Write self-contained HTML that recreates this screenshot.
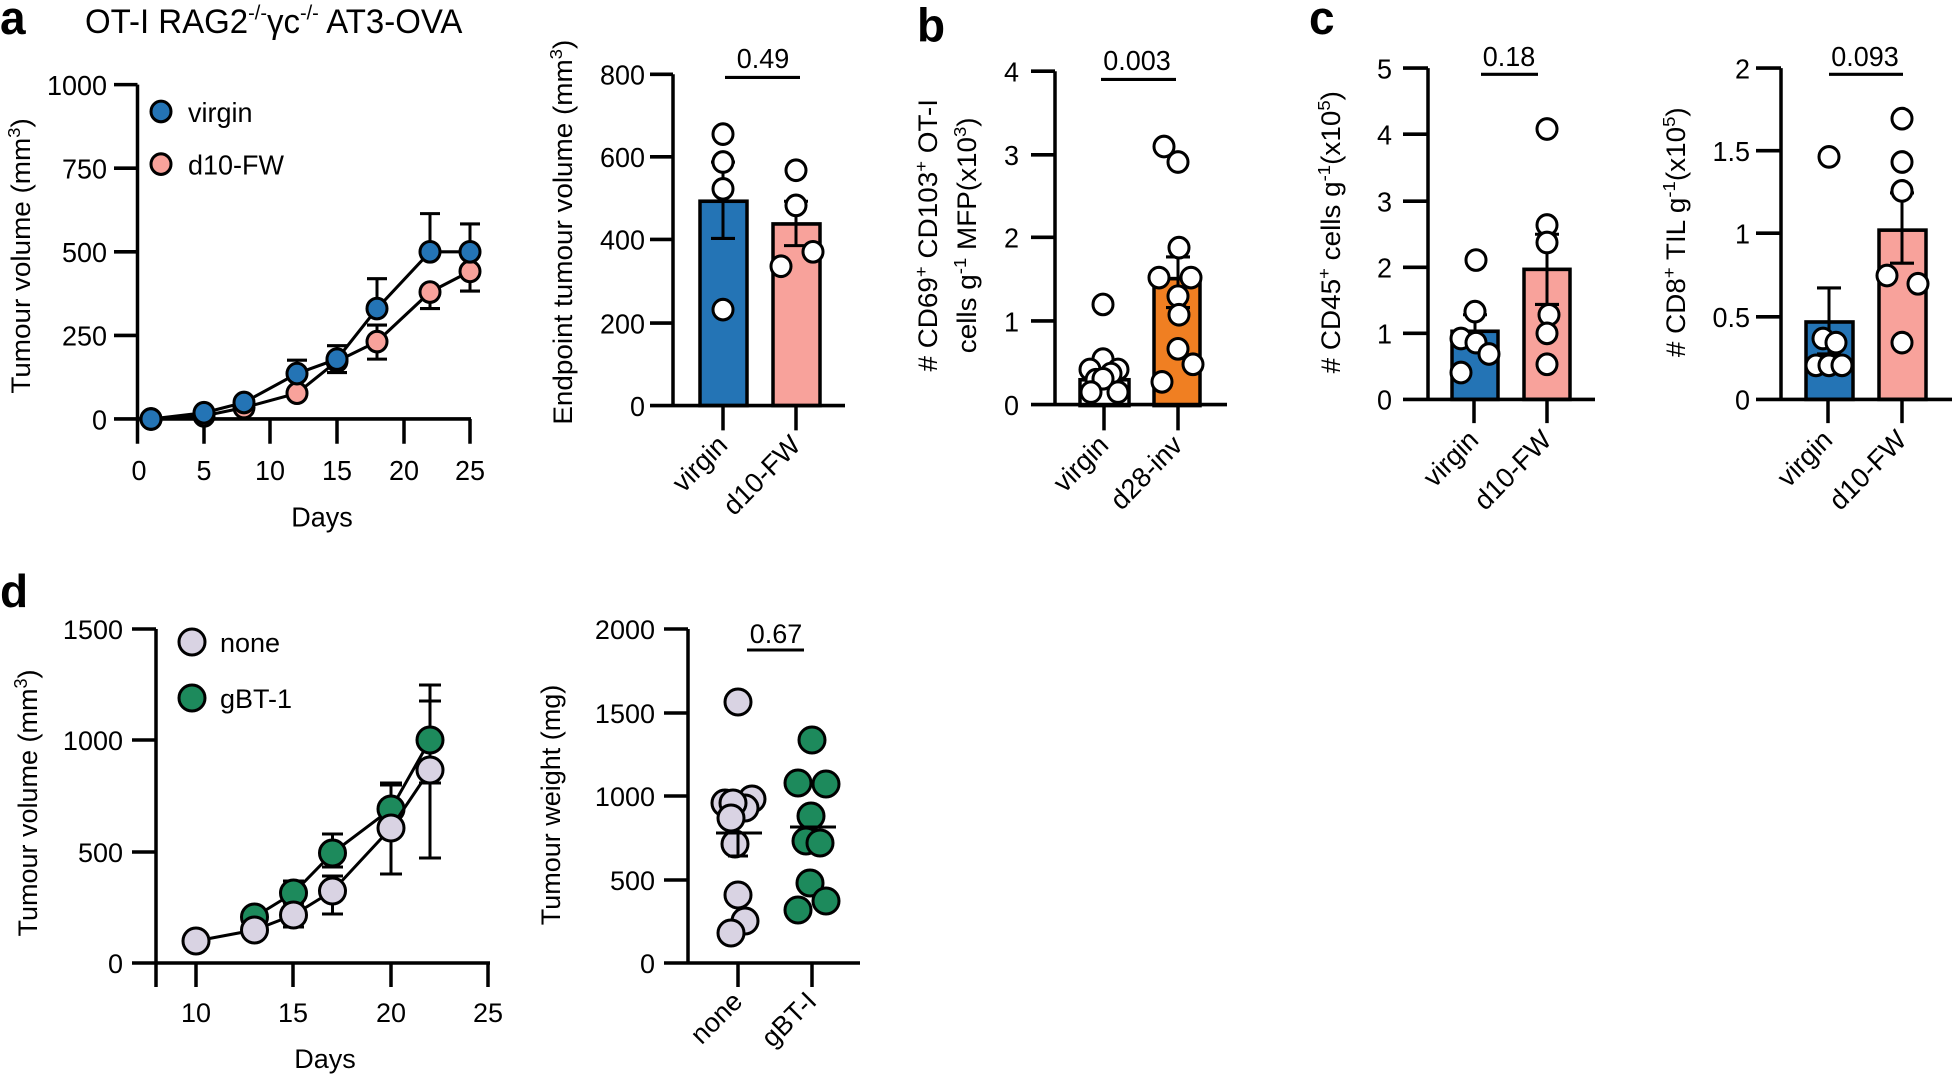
<!DOCTYPE html>
<html><head><meta charset="utf-8"><style>
html,body{margin:0;padding:0;background:#fff;}
svg{display:block;font-family:"Liberation Sans",Arial,sans-serif;}
text{fill:#000;}
.t{font-size:27px;}
.ax{stroke:#000;stroke-width:3.5;fill:none;}
.e{stroke:#000;stroke-width:3;fill:none;}
</style></head><body>
<svg width="1952" height="1075" viewBox="0 0 1952 1075" xmlns="http://www.w3.org/2000/svg">
<g transform="scale(1,1.032)">
<!-- Panel a1 -->
<text x="0" y="33" font-size="46" font-weight="bold">a</text>
<text x="85" y="32" font-size="33">OT-I RAG2<tspan font-size="20" dy="-13">-/-</tspan><tspan dy="13">γc</tspan><tspan font-size="20" dy="-13">-/-</tspan><tspan dy="13"> AT3-OVA</tspan></text>
<path class="ax" d="M137.5,82 V430 M114,82 H137.5 M114,163 H137.5 M114,244 H137.5 M114,325 H137.5 M114,406 H471 M204,406 V430 M270,406 V430 M337,406 V430 M404,406 V430 M470,406 V430"/>
<g class="t" text-anchor="end"><text x="107" y="92">1000</text><text x="107" y="173">750</text><text x="107" y="254">500</text><text x="107" y="335">250</text><text x="107" y="416">0</text></g>
<g class="t" text-anchor="middle"><text x="139" y="465">0</text><text x="204" y="465">5</text><text x="270" y="465">10</text><text x="337" y="465">15</text><text x="404" y="465">20</text><text x="470" y="465">25</text>
<text x="322" y="510">Days</text></g>
<text class="t" transform="translate(30,248) rotate(-90)" text-anchor="middle">Tumour volume (mm<tspan font-size="18" dy="-10">3</tspan><tspan dy="10">)</tspan></text>
<circle cx="161" cy="108" r="10" fill="#2474b5" stroke="#000" stroke-width="3"/><text class="t" x="188" y="118">virgin</text>
<circle cx="161" cy="159" r="10" fill="#f8a29b" stroke="#000" stroke-width="3"/><text class="t" x="188" y="169">d10-FW</text>
<path class="e" d="M297,362 V349 M287,349 H307 M337,348 V335 M327,335 H347 M377,299 V270 M367,270 H387 M430,244 V207 M420,207 H440 M470,244 V217 M460,217 H480
M337,350 V361 M327,361 H347 M377,331 V348 M367,348 H387 M377,331 V315 M367,315 H387 M430,283 V299 M420,299 H440 M470,263 V282 M460,282 H480"/>
<polyline class="e" points="151,406 204,403 244,395 297,381 337,350 377,331 430,283 470,263"/>
<g fill="#f8a29b" stroke="#000" stroke-width="3"><circle cx="151" cy="406" r="10"/><circle cx="204" cy="403" r="10"/><circle cx="244" cy="395" r="10"/><circle cx="297" cy="381" r="10"/><circle cx="337" cy="350" r="10"/><circle cx="377" cy="331" r="10"/><circle cx="430" cy="283" r="10"/><circle cx="470" cy="263" r="10"/></g>
<polyline class="e" points="151,406 204,400 244,390 297,362 337,348 377,299 430,244 470,244"/>
<g fill="#2474b5" stroke="#000" stroke-width="3"><circle cx="151" cy="406" r="10"/><circle cx="204" cy="400" r="10"/><circle cx="244" cy="390" r="10"/><circle cx="297" cy="362" r="10"/><circle cx="337" cy="348" r="10"/><circle cx="377" cy="299" r="10"/><circle cx="430" cy="244" r="10"/><circle cx="470" cy="244" r="10"/></g>

<!-- Panel a2 -->
<rect x="700" y="195" width="47" height="198" fill="#2474b5" stroke="#000" stroke-width="3.5"/>
<rect x="773" y="217" width="47" height="176" fill="#f8a29b" stroke="#000" stroke-width="3.5"/>
<path class="ax" d="M673,72 V393 M650,72 H673 M650,152 H673 M650,232 H673 M650,313 H673 M650,393 H845 M723,393 V417 M796,393 V417"/>
<g class="t" text-anchor="end"><text x="645" y="82">800</text><text x="645" y="162">600</text><text x="645" y="242">400</text><text x="645" y="323">200</text><text x="645" y="403">0</text></g>
<text class="t" transform="translate(572,225) rotate(-90)" text-anchor="middle">Endpoint tumour volume (mm<tspan font-size="18" dy="-10">3</tspan><tspan dy="10">)</tspan></text>
<path class="e" d="M723,157 V231 M711,157 H735 M711,231 H735 M796,195 V238 M784,195 H808 M784,238 H808"/>
<g fill="#fff" stroke="#000" stroke-width="3"><circle cx="723" cy="130" r="10"/><circle cx="723" cy="157" r="10"/><circle cx="723" cy="183" r="10"/><circle cx="723" cy="300" r="10"/><circle cx="796" cy="165" r="10"/><circle cx="796" cy="199" r="10"/><circle cx="781" cy="258" r="10"/><circle cx="813" cy="244" r="10"/></g>
<path class="e" d="M725,75 H800"/><text class="t" x="763" y="66" text-anchor="middle">0.49</text>
<g class="t" text-anchor="end"><text transform="translate(729,433) rotate(-45)">virgin</text><text transform="translate(802,433) rotate(-45)">d10-FW</text></g>

<!-- Panel b -->
<text x="917" y="40" font-size="46" font-weight="bold">b</text>
<rect x="1080" y="368" width="49" height="25" fill="#fff" stroke="#000" stroke-width="3.5"/>
<rect x="1154" y="270" width="46" height="123" fill="#f07f22" stroke="#000" stroke-width="3.5"/>
<path class="ax" d="M1055,69 V392 M1031,69 H1055 M1031,150 H1055 M1031,230 H1055 M1031,311 H1055 M1031,392 H1227 M1104,392 V417 M1178,392 V417"/>
<g class="t" text-anchor="end"><text x="1019" y="79">4</text><text x="1019" y="160">3</text><text x="1019" y="240">2</text><text x="1019" y="321">1</text><text x="1019" y="402">0</text></g>
<text class="t" transform="translate(937,228) rotate(-90)" text-anchor="middle"># CD69<tspan font-size="18" dy="-10">+</tspan><tspan dy="10"> CD103</tspan><tspan font-size="18" dy="-10">+</tspan><tspan dy="10"> OT-I</tspan></text>
<text class="t" transform="translate(976,228) rotate(-90)" text-anchor="middle">cells g<tspan font-size="18" dy="-10">-1</tspan><tspan dy="10"> MFP(x10</tspan><tspan font-size="18" dy="-10">3</tspan><tspan dy="10">)</tspan></text>
<path class="e" d="M1178,249 V298 M1166,249 H1190 M1166,298 H1190 M1103,362 V375 M1093,362 H1113"/>
<g fill="#fff" stroke="#000" stroke-width="3"><circle cx="1103" cy="295" r="10"/><circle cx="1103" cy="348" r="10"/><circle cx="1090" cy="358" r="10"/><circle cx="1118" cy="358" r="10"/><circle cx="1111" cy="362" r="10"/><circle cx="1096" cy="368" r="10"/><circle cx="1103" cy="367" r="10"/><circle cx="1091" cy="380" r="10"/><circle cx="1118" cy="380" r="10"/>
<circle cx="1164" cy="142" r="10"/><circle cx="1178" cy="157" r="10"/><circle cx="1179" cy="240" r="10"/><circle cx="1159" cy="269" r="10"/><circle cx="1191" cy="269" r="10"/><circle cx="1178" cy="287" r="10"/><circle cx="1179" cy="305" r="10"/><circle cx="1178" cy="338" r="10"/><circle cx="1193" cy="353" r="10"/><circle cx="1162" cy="370" r="10"/></g>
<path class="e" d="M1101,77 H1176"/><text class="t" x="1137" y="68" text-anchor="middle">0.003</text>
<g class="t" text-anchor="end"><text transform="translate(1110,433) rotate(-45)">virgin</text><text transform="translate(1184,433) rotate(-45)">d28-inv</text></g>

<!-- Panel c1 -->
<text x="1309" y="33" font-size="46" font-weight="bold">c</text>
<rect x="1452" y="321" width="46" height="66" fill="#2474b5" stroke="#000" stroke-width="3.5"/>
<rect x="1524" y="261" width="46" height="126" fill="#f8a29b" stroke="#000" stroke-width="3.5"/>
<path class="ax" d="M1428,66 V387 M1403,66 H1428 M1403,130 H1428 M1403,195 H1428 M1403,259 H1428 M1403,323 H1428 M1403,387 H1595 M1474,387 V410 M1547,387 V410"/>
<g class="t" text-anchor="end"><text x="1392" y="76">5</text><text x="1392" y="140">4</text><text x="1392" y="205">3</text><text x="1392" y="269">2</text><text x="1392" y="333">1</text><text x="1392" y="397">0</text></g>
<text class="t" transform="translate(1340,225) rotate(-90)" text-anchor="middle"># CD45<tspan font-size="18" dy="-10">+</tspan><tspan dy="10"> cells g</tspan><tspan font-size="18" dy="-10">-1</tspan><tspan dy="10">(x10</tspan><tspan font-size="18" dy="-10">5</tspan><tspan dy="10">)</tspan></text>
<path class="e" d="M1475,305 V337 M1463,305 H1487 M1547,227 V295 M1535,227 H1559 M1535,295 H1559"/>
<g fill="#fff" stroke="#000" stroke-width="3"><circle cx="1476" cy="252" r="10"/><circle cx="1475" cy="302" r="10"/><circle cx="1461" cy="328" r="10"/><circle cx="1476" cy="332" r="10"/><circle cx="1489" cy="343" r="10"/><circle cx="1461" cy="361" r="10"/>
<circle cx="1547" cy="125" r="10"/><circle cx="1547" cy="218" r="10"/><circle cx="1547" cy="235" r="10"/><circle cx="1549" cy="305" r="10"/><circle cx="1547" cy="323" r="10"/><circle cx="1547" cy="353" r="10"/></g>
<path class="e" d="M1481,72 H1538"/><text class="t" x="1509" y="64" text-anchor="middle">0.18</text>
<g class="t" text-anchor="end"><text transform="translate(1480,428) rotate(-45)">virgin</text><text transform="translate(1553,428) rotate(-45)">d10-FW</text></g>

<!-- Panel c2 -->
<rect x="1806" y="312" width="47" height="75" fill="#2474b5" stroke="#000" stroke-width="3.5"/>
<rect x="1879" y="223" width="47" height="164" fill="#f8a29b" stroke="#000" stroke-width="3.5"/>
<path class="ax" d="M1781,66 V387 M1756,66 H1781 M1756,146 H1781 M1756,226 H1781 M1756,307 H1781 M1756,387 H1952 M1828,387 V410 M1902,387 V410"/>
<g class="t" text-anchor="end"><text x="1750" y="76">2</text><text x="1750" y="156">1.5</text><text x="1750" y="236">1</text><text x="1750" y="317">0.5</text><text x="1750" y="397">0</text></g>
<text class="t" transform="translate(1685,225) rotate(-90)" text-anchor="middle"># CD8<tspan font-size="18" dy="-10">+</tspan><tspan dy="10"> TIL g</tspan><tspan font-size="18" dy="-10">-1</tspan><tspan dy="10">(x10</tspan><tspan font-size="18" dy="-10">5</tspan><tspan dy="10">)</tspan></text>
<path class="e" d="M1829,279 V343 M1817,279 H1841 M1817,343 H1841 M1902,187 V255 M1890,187 H1914 M1890,255 H1914"/>
<g fill="#fff" stroke="#000" stroke-width="3"><circle cx="1829" cy="152" r="10"/><circle cx="1823" cy="328" r="10"/><circle cx="1836" cy="332" r="10"/><circle cx="1816" cy="354" r="10"/><circle cx="1829" cy="354" r="10"/><circle cx="1842" cy="354" r="10"/>
<circle cx="1902" cy="115" r="10"/><circle cx="1902" cy="157" r="10"/><circle cx="1902" cy="185" r="10"/><circle cx="1887" cy="267" r="10"/><circle cx="1918" cy="275" r="10"/><circle cx="1902" cy="332" r="10"/></g>
<path class="e" d="M1829,72 H1903"/><text class="t" x="1865" y="64" text-anchor="middle">0.093</text>
<g class="t" text-anchor="end"><text transform="translate(1834,428) rotate(-45)">virgin</text><text transform="translate(1908,428) rotate(-45)">d10-FW</text></g>
</g>

<!-- Panel d1 -->
<text x="0" y="607" font-size="46" font-weight="bold">d</text>
<path class="ax" d="M156,629 V987 M132,629 H156 M132,740 H156 M132,852 H156 M132,963 H490 M196,963 V987 M293,963 V987 M391,963 V987 M488,963 V987"/>
<g class="t" text-anchor="end"><text x="123" y="639">1500</text><text x="123" y="750">1000</text><text x="123" y="862">500</text><text x="123" y="973">0</text></g>
<g class="t" text-anchor="middle"><text x="196" y="1022">10</text><text x="293" y="1022">15</text><text x="391" y="1022">20</text><text x="488" y="1022">25</text><text x="325" y="1068">Days</text></g>
<text class="t" transform="translate(37,803) rotate(-90)" text-anchor="middle">Tumour volume (mm<tspan font-size="18" dy="-10">3</tspan><tspan dy="10">)</tspan></text>
<circle cx="192" cy="642" r="13" fill="#d9d3e3" stroke="#000" stroke-width="3"/><text class="t" x="220" y="652">none</text>
<circle cx="192" cy="698" r="13" fill="#1d8a5c" stroke="#000" stroke-width="3"/><text class="t" x="220" y="708">gBT-1</text>
<path class="e" d="M293.5,893 V881 M283,881 H304 M332.5,853 V834 M322,834 H343 M332.5,853 V867 M322,867 H343 M391,809 V783 M380,783 H402 M391,809 V836 M380,836 H402 M430,740 V701 M419,701 H441 M430,740 V783 M419,783 H441
M293.5,915 V927 M283,927 H304 M293.5,915 V903 M283,903 H304 M332.5,891 V914 M322,914 H343 M332.5,891 V876 M322,876 H343 M391,828 V874 M380,874 H402 M391,828 V785 M380,785 H402 M430,770 V858 M419,858 H441 M430,770 V685 M419,685 H441"/>
<polyline class="e" points="254.5,917 293.5,893 332.5,853 391,809 430,740"/>
<g fill="#1d8a5c" stroke="#000" stroke-width="3"><circle cx="254.5" cy="917" r="13"/><circle cx="293.5" cy="893" r="13"/><circle cx="332.5" cy="853" r="13"/><circle cx="391" cy="809" r="13"/><circle cx="430" cy="740" r="13"/></g>
<polyline class="e" points="196,941 254.5,930 293.5,915 332.5,891 391,828 430,770"/>
<g fill="#d9d3e3" stroke="#000" stroke-width="3"><circle cx="196" cy="941" r="13"/><circle cx="254.5" cy="930" r="13"/><circle cx="293.5" cy="915" r="13"/><circle cx="332.5" cy="891" r="13"/><circle cx="391" cy="828" r="13"/><circle cx="430" cy="770" r="13"/></g>

<!-- Panel d2 -->
<path class="ax" d="M688,629 V963 M664,629 H688 M664,713 H688 M664,796 H688 M664,880 H688 M664,963 H860 M738,963 V987 M812,963 V987"/>
<g class="t" text-anchor="end"><text x="655" y="639">2000</text><text x="655" y="723">1500</text><text x="655" y="806">1000</text><text x="655" y="890">500</text><text x="655" y="973">0</text></g>
<text class="t" transform="translate(560,805) rotate(-90)" text-anchor="middle">Tumour weight (mg)</text>
<g fill="#d9d3e3" stroke="#000" stroke-width="3"><circle cx="738" cy="702" r="13"/><circle cx="725" cy="803" r="13"/><circle cx="752" cy="799" r="13"/><circle cx="745" cy="808" r="13"/><circle cx="733" cy="803" r="13"/><circle cx="731" cy="818" r="13"/><circle cx="735" cy="844" r="13"/><circle cx="738" cy="895" r="13"/><circle cx="745" cy="921" r="13"/><circle cx="731" cy="933" r="13"/></g>
<g fill="#1d8a5c" stroke="#000" stroke-width="3"><circle cx="812" cy="740" r="13"/><circle cx="798" cy="783" r="13"/><circle cx="826" cy="784" r="13"/><circle cx="811" cy="816" r="13"/><circle cx="806" cy="841" r="13"/><circle cx="820" cy="843" r="13"/><circle cx="810" cy="883" r="13"/><circle cx="826" cy="901" r="13"/><circle cx="798" cy="910" r="13"/></g>
<path class="e" d="M716,833 H762 M738,833 V856 M728,856 H748 M790,827 H836"/>
<path class="e" d="M747,650 H804"/><text class="t" x="776" y="643" text-anchor="middle">0.67</text>
<g class="t" text-anchor="end"><text transform="translate(744,1003) rotate(-45)">none</text><text transform="translate(818,1003) rotate(-45)">gBT-I</text></g>
</svg>
</body></html>
